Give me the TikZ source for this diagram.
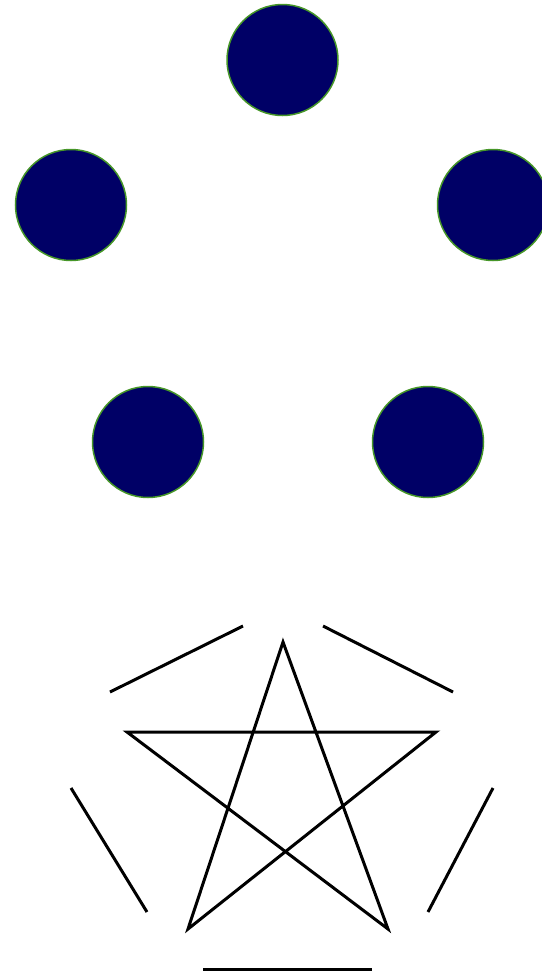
\documentclass[tikz,border=0pt]{standalone}
\definecolor{navyfill}{RGB}{0,0,102}
\definecolor{ringgreen}{RGB}{70,150,40}
\begin{document}
\begin{tikzpicture}[x=1pt,y=-1pt,
  dot/.style={circle,fill=navyfill,draw=ringgreen,line width=1.5pt,minimum size=111pt,inner sep=0pt},
  ink/.style={line width=3pt,black}]
\useasboundingbox (0,0) rectangle (541,972);
\node[dot] (c1) at (282.5,60) {};
\node[dot] (c2) at (71,205) {};
\node[dot] (c3) at (493,205) {};
\node[dot] (c4) at (148,442) {};
\node[dot] (c5) at (428,442) {};
% star vertices
\coordinate (s1) at (283,642);
\coordinate (s2) at (127,732);
\coordinate (s3) at (436,732);
\coordinate (s4) at (188,929);
\coordinate (s5) at (388,929);
\draw[ink,line join=miter] (s1) -- (s4) -- (s3) -- (s2) -- (s5) -- cycle;
% outer segments
\coordinate (a1) at (110,692); \coordinate (a2) at (243,626);
\coordinate (b1) at (323,626); \coordinate (b2) at (453,692);
\coordinate (d1) at (71,788); \coordinate (d2) at (147,912);
\coordinate (e1) at (493,788); \coordinate (e2) at (428,912);
\coordinate (f1) at (203,969); \coordinate (f2) at (372,969);
\draw[ink] (a1) -- (a2);
\draw[ink] (b1) -- (b2);
\draw[ink] (d1) -- (d2);
\draw[ink] (e1) -- (e2);
\draw[ink] (f1) -- (f2);
\end{tikzpicture}
\end{document}
